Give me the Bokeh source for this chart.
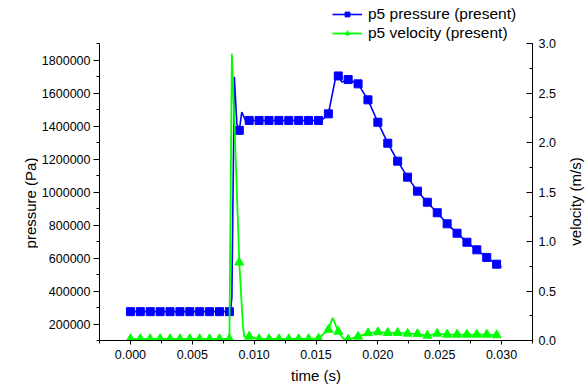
from bokeh.plotting import figure
from bokeh.layouts import row
from bokeh.models import (LinearAxis, Range1d, Legend, LegendItem, FixedTicker,
                          NumeralTickFormatter)
from bokeh.embed import file_html
from bokeh.resources import INLINE

# ---- data ----
# marker sample times (s)
marker_time = [0.0000, 0.0008, 0.0016, 0.0024, 0.0032, 0.0040, 0.0048, 0.0056,
               0.0064, 0.0072, 0.0080, 0.0088, 0.0096, 0.0104, 0.0112, 0.0120,
               0.0128, 0.0136, 0.0144, 0.0152, 0.0160, 0.0168, 0.0176, 0.0184,
               0.0192, 0.0200, 0.0208, 0.0216, 0.0224, 0.0232, 0.0240, 0.0248,
               0.0256, 0.0264, 0.0272, 0.0280, 0.0288, 0.0296]

pressure_markers = [275000, 275000, 275000, 275000, 275000, 275000, 275000, 275000,
                    275000, 275000, 275000, 1375000, 1435000, 1435000, 1435000, 1435000,
                    1435000, 1435000, 1435000, 1435000, 1475000, 1705000, 1683000, 1657000,
                    1560000, 1424000, 1297000, 1188000, 1091000, 1006000, 939000, 875000,
                    808000, 751000, 696000, 650000, 604000, 563000]

velocity_markers = [0.015, 0.015, 0.015, 0.015, 0.015, 0.015, 0.015, 0.015,
                    0.015, 0.015, 0.015, 0.79, 0.04, 0.015, 0.015, 0.015,
                    0.015, 0.015, 0.015, 0.02, 0.11, 0.09, 0.01, 0.04,
                    0.075, 0.085, 0.078, 0.078, 0.07, 0.066, 0.05, 0.07,
                    0.06, 0.06, 0.06, 0.06, 0.06, 0.055]

# extra points of the curves between markers
pressure_extra_time = [0.0081, 0.0082, 0.0084, 0.0086, 0.0090, 0.0093, 0.0156,
                       0.0166, 0.0171, 0.0300]
pressure_extra = [285000, 360000, 1700000, 1414000, 1486000, 1435000, 1445000,
                  1700000, 1668000, 545000]

velocity_extra_time = [0.0082, 0.0086, 0.0090, 0.0091, 0.0092, 0.01635, 0.0172, 0.0298]
velocity_extra = [2.90, 1.52, 0.35, 0.14, 0.04, 0.23, 0.02, 0.055]

x_ticks = [0.000, 0.005, 0.010, 0.015, 0.020, 0.025, 0.030]
y_ticks = [200000, 400000, 600000, 800000, 1000000, 1200000, 1400000, 1600000, 1800000]
v_ticks = [0.0, 0.5, 1.0, 1.5, 2.0, 2.5, 3.0]

BLUE = "#0000ff"
GREEN = "#00ff00"
FONT = "Liberation Sans"

# layout geometry (pixels)
H = 387
LEFT_W, RIGHT_W = 38, 27
MAIN_LEFT, FRAME_W, MAIN_RIGHT, BOTTOM = 61, 433, 28, 47
MAIN_W = MAIN_LEFT + FRAME_W + MAIN_RIGHT
AXIS_TOP_PX = 43.3          # where the drawn axes end (top)
FRAME_H = H - BOTTOM        # frame spans to the top so that the legend sits inside it
SCALE = FRAME_H / (FRAME_H - AXIS_TOP_PX)

P_MIN, P_MAX = 100000, 1900000
V_MIN, V_MAX = 0.0, 3.0


def merge(t1, v1, t2, v2):
    pts = sorted(zip(list(t1) + list(t2), list(v1) + list(v2)))
    return [a for a, _ in pts], [b for _, b in pts]


def no_frame_align(fig):
    try:
        fig.frame_align = False
    except Exception:
        pass


p_line_t, p_line_v = merge(marker_time, pressure_markers, pressure_extra_time, pressure_extra)
v_line_t, v_line_v = merge(marker_time, velocity_markers, velocity_extra_time, velocity_extra)

p = figure(width=MAIN_W, height=H,
           x_range=Range1d(-0.0025, 0.0325),
           y_range=Range1d(P_MIN, P_MIN + (P_MAX - P_MIN) * SCALE),
           output_backend="svg", toolbar_location=None,
           min_border_left=MAIN_LEFT, min_border_right=MAIN_RIGHT, min_border_top=0,
           min_border_bottom=BOTTOM)
no_frame_align(p)
p.extra_y_ranges = {"vel": Range1d(V_MIN, V_MIN + (V_MAX - V_MIN) * SCALE)}
p.outline_line_color = None
p.xgrid.visible = False
p.ygrid.visible = False
p.background_fill_color = "white"
p.border_fill_color = "white"

pl = p.line(p_line_t, p_line_v, color=BLUE, line_width=1.6)
pm = p.scatter(marker_time, pressure_markers, marker="square", size=8, color=BLUE)
vl = p.line(v_line_t, v_line_v, color=GREEN, line_width=1.8, y_range_name="vel")
vm = p.scatter(marker_time, velocity_markers, marker="triangle", size=9, color=GREEN,
               y_range_name="vel")


def style_axis(ax):
    ax.axis_line_color = "black"
    ax.axis_line_width = 1
    ax.major_tick_line_color = "black"
    ax.minor_tick_line_color = "black"
    ax.major_label_text_font = FONT
    ax.major_label_text_font_size = "12.5px"
    ax.major_label_text_color = "black"
    ax.axis_label_text_font = FONT
    ax.axis_label_text_font_size = "15px"
    ax.axis_label_text_font_style = "normal"
    ax.axis_label_text_color = "black"


xa = p.xaxis[0]
style_axis(xa)
xa.axis_label = "time (s)"
xa.ticker = FixedTicker(ticks=x_ticks,
                        minor_ticks=[-0.0025, 0.0, 0.0025, 0.005, 0.0075, 0.01, 0.0125, 0.015,
                                     0.0175, 0.02, 0.0225, 0.025, 0.0275, 0.03, 0.0325])
xa.formatter = NumeralTickFormatter(format="0.000")
xa.major_tick_in = 0
xa.major_tick_out = 4
xa.minor_tick_in = 0
xa.minor_tick_out = 3
xa.major_label_standoff = 5
xa.axis_label_standoff = 5

ya = p.yaxis[0]
style_axis(ya)
ya.bounds = (P_MIN, P_MAX)
ya.ticker = FixedTicker(ticks=y_ticks,
                        minor_ticks=[100000 * k for k in range(1, 20)])
ya.formatter = NumeralTickFormatter(format="0")
ya.major_tick_in = 0
ya.major_tick_out = 6
ya.minor_tick_in = 0
ya.minor_tick_out = 3
ya.major_label_standoff = 3

ra = LinearAxis(y_range_name="vel")
style_axis(ra)
ra.bounds = (V_MIN, V_MAX)
ra.ticker = FixedTicker(ticks=v_ticks,
                        minor_ticks=[0.0, 0.25, 0.5, 0.75, 1.0, 1.25, 1.5, 1.75, 2.0,
                                     2.25, 2.5, 2.75, 3.0])
ra.formatter = NumeralTickFormatter(format="0.0")
ra.major_tick_in = 6
ra.major_tick_out = 0
ra.minor_tick_in = 3
ra.minor_tick_out = 0
ra.major_label_standoff = 6
p.add_layout(ra, "right")

legend = Legend(items=[LegendItem(label="p5 pressure (present)", renderers=[pl, pm]),
                       LegendItem(label="p5 velocity (present)", renderers=[vl, vm])],
                location=(233, 298))
legend.padding = 0
legend.margin = 0
legend.spacing = 1
legend.glyph_width = 30
legend.glyph_height = 12
legend.label_height = 12
legend.label_standoff = 6
legend.label_text_font = FONT
legend.label_text_font_size = "15.5px"
legend.label_text_color = "black"
legend.background_fill_alpha = 0
legend.border_line_alpha = 0
p.add_layout(legend, "center")


def title_strip(text, width, border_left, border_top, standoff):
    """A narrow figure whose (tick-less) left axis carries a vertical axis title."""
    f = figure(width=width, height=H, x_range=Range1d(0, 1), y_range=Range1d(0, 1),
               output_backend="svg", toolbar_location=None,
               min_border_left=border_left, min_border_right=0,
               min_border_top=border_top, min_border_bottom=BOTTOM)
    no_frame_align(f)
    f.outline_line_color = None
    f.xgrid.visible = False
    f.ygrid.visible = False
    f.xaxis.visible = False
    f.background_fill_color = "white"
    f.border_fill_color = "white"
    ax = f.yaxis[0]
    style_axis(ax)
    ax.axis_label = text
    ax.ticker = FixedTicker(ticks=[])
    ax.axis_line_color = None
    ax.major_tick_line_color = None
    ax.minor_tick_line_color = None
    ax.major_tick_out = 0
    ax.minor_tick_out = 0
    ax.axis_label_standoff = standoff
    return f


left_title = title_strip("pressure (Pa)", LEFT_W, 37, 65, -1)
right_title = title_strip("velocity (m/s)", RIGHT_W, 23, 62, 0)

layout = row(left_title, p, right_title, spacing=0)

open("out.html", "w").write(file_html(layout, INLINE))
